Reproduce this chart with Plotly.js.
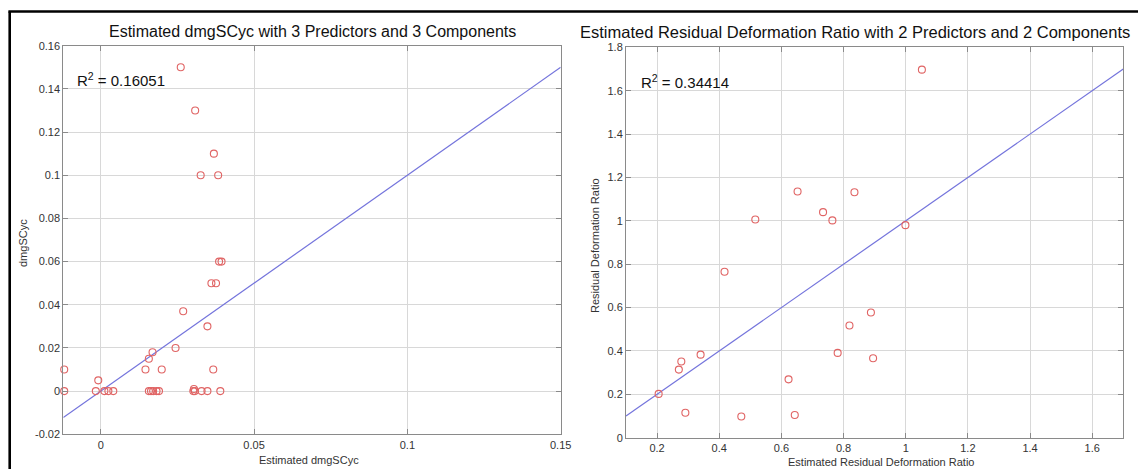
<!DOCTYPE html>
<html>
<head>
<meta charset="utf-8">
<script src="https://cdn.plot.ly/plotly-3.0.1.min.js"></script>
<style>html,body{margin:0;padding:0;background:#fff;}#chart{width:1138px;height:469px;}</style>
</head>
<body>
<div id="chart"></div>
<script>
// ---------- DATA ----------
// Left panel: Estimated dmgSCyc (x) vs dmgSCyc (y)
const dmgEstimated = [
  0.0261, 0.0308, 0.0369, 0.0326, 0.0383, 0.0386, 0.0394, 0.0361, 0.0376,
  0.0269, 0.0348, 0.0244, 0.0169, 0.0157, 0.0146, 0.0199, 0.0367, -0.0119, -0.0008,
  -0.0119, -0.0016, 0.0012, 0.0025, 0.0041, 0.0157, 0.0164, 0.0171, 0.0182, 0.0190,
  0.0302, 0.0304, 0.0307, 0.0329, 0.0348, 0.0390
];
const dmgObserved = [
  0.150, 0.130, 0.110, 0.100, 0.100, 0.060, 0.060, 0.050, 0.050,
  0.037, 0.030, 0.020, 0.018, 0.015, 0.010, 0.010, 0.010, 0.010, 0.005,
  0, 0, 0, 0, 0, 0, 0, 0, 0, 0,
  0, 0.001, 0, 0, 0, 0
];
const dmgR2 = "0.16051";
const dmgXTicks = [0, 0.05, 0.1, 0.15];
const dmgXTickText = ["0", "0.05", "0.1", "0.15"];
const dmgYTicks = [-0.02, 0, 0.02, 0.04, 0.06, 0.08, 0.1, 0.12, 0.14, 0.16];
const dmgYTickText = ["-0.02", "0", "0.02", "0.04", "0.06", "0.08", "0.1", "0.12", "0.14", "0.16"];
const dmgRange = [-0.0122, 0.15];

// Right panel: Estimated Residual Deformation Ratio (x) vs Residual Deformation Ratio (y)
const rdrEstimated = [
  1.052, 0.652, 0.835, 0.734, 0.764, 0.516, 0.999, 0.417, 0.888, 0.819,
  0.781, 0.895, 0.340, 0.278, 0.270, 0.623, 0.205, 0.291, 0.471, 0.643
];
const rdrObserved = [
  1.697, 1.135, 1.132, 1.040, 1.002, 1.006, 0.980, 0.765, 0.577, 0.517,
  0.391, 0.366, 0.383, 0.351, 0.314, 0.269, 0.202, 0.115, 0.098, 0.105
];
const rdrR2 = "0.34414";
const rdrXTicks = [0.2, 0.4, 0.6, 0.8, 1, 1.2, 1.4, 1.6];
const rdrXTickText = ["0.2", "0.4", "0.6", "0.8", "1", "1.2", "1.4", "1.6"];
const rdrYTicks = [0, 0.2, 0.4, 0.6, 0.8, 1, 1.2, 1.4, 1.6, 1.8];
const rdrYTickText = ["0", "0.2", "0.4", "0.6", "0.8", "1", "1.2", "1.4", "1.6", "1.8"];
const rdrRange = [0.1, 1.7];

// ---------- LAYOUT HELPERS ----------
const W = 1138, H = 469;
const px = v => v / W;
const py = v => 1 - v / H;

const FONT = "Liberation Sans, Arial, Helvetica, sans-serif";
const markerColor = "#e06464";
const lineColor = "#7474dc";
const frameColor = "#8a8a8a";
const gridColor = "#d8d8d8";

function axisBase(extra) {
  return Object.assign({
    showgrid: true, gridcolor: gridColor, gridwidth: 1,
    zeroline: false, showline: true, linecolor: frameColor, linewidth: 1,
    mirror: "ticks", ticks: "inside", ticklen: 5, tickcolor: frameColor,
    tickfont: {family: FONT, size: 11, color: "#333"},
    fixedrange: true
  }, extra);
}

const traces = [
  {x: dmgRange, y: dmgRange, xaxis: "x", yaxis: "y", mode: "lines",
   line: {color: lineColor, width: 1.2}, hoverinfo: "skip"},
  {x: dmgEstimated, y: dmgObserved, xaxis: "x", yaxis: "y", mode: "markers",
   marker: {symbol: "circle-open", size: 7, color: markerColor, line: {width: 1.1, color: markerColor}},
   cliponaxis: false},
  {x: rdrRange, y: rdrRange, xaxis: "x2", yaxis: "y2", mode: "lines",
   line: {color: lineColor, width: 1.2}, hoverinfo: "skip"},
  {x: rdrEstimated, y: rdrObserved, xaxis: "x2", yaxis: "y2", mode: "markers",
   marker: {symbol: "circle-open", size: 7, color: markerColor, line: {width: 1.1, color: markerColor}},
   cliponaxis: false}
];

const layout = {
  width: W, height: H,
  margin: {l: 0, r: 0, t: 0, b: 0},
  paper_bgcolor: "#fff", plot_bgcolor: "#fff",
  showlegend: false,
  font: {family: FONT, color: "#222"},
  xaxis: axisBase({domain: [px(63.3), px(560.7)], range: dmgRange,
    tickmode: "array", tickvals: dmgXTicks, ticktext: dmgXTickText, anchor: "y"}),
  yaxis: axisBase({domain: [py(434.3), py(45.7)], range: [dmgYTicks[0], dmgYTicks[dmgYTicks.length - 1]],
    tickmode: "array", tickvals: dmgYTicks, ticktext: dmgYTickText, anchor: "x"}),
  xaxis2: axisBase({domain: [px(626), px(1123.3)], range: rdrRange,
    tickmode: "array", tickvals: rdrXTicks, ticktext: rdrXTickText, anchor: "y2"}),
  yaxis2: axisBase({domain: [py(437.7), py(47.3)], range: [rdrYTicks[0], rdrYTicks[rdrYTicks.length - 1]],
    tickmode: "array", tickvals: rdrYTicks, ticktext: rdrYTickText, anchor: "x2"}),
  annotations: [
    {text: "Estimated dmgSCyc with 3 Predictors and 3 Components", xref: "paper", yref: "paper",
     x: px(312), y: py(31), xanchor: "center", yanchor: "middle", showarrow: false,
     font: {family: FONT, size: 16, color: "#111"}},
    {text: "Estimated Residual Deformation Ratio with 2 Predictors and 2 Components", xref: "paper", yref: "paper",
     x: px(855), y: py(32), xanchor: "center", yanchor: "middle", showarrow: false,
     font: {family: FONT, size: 16.5, color: "#111"}},
    {text: "R<sup>2</sup> = " + dmgR2, xref: "paper", yref: "paper",
     x: px(75), y: py(80), xanchor: "left", yanchor: "middle", showarrow: false,
     font: {family: FONT, size: 15, color: "#111"}},
    {text: "R<sup>2</sup> = " + rdrR2, xref: "paper", yref: "paper",
     x: px(639), y: py(82), xanchor: "left", yanchor: "middle", showarrow: false,
     font: {family: FONT, size: 15, color: "#111"}},
    {text: "Estimated dmgSCyc", xref: "paper", yref: "paper",
     x: px(309), y: py(460), xanchor: "center", yanchor: "middle", showarrow: false,
     font: {family: FONT, size: 11, color: "#333"}},
    {text: "dmgSCyc", xref: "paper", yref: "paper", textangle: -90,
     x: px(23), y: py(243), xanchor: "center", yanchor: "middle", showarrow: false,
     font: {family: FONT, size: 11, color: "#333"}},
    {text: "Estimated Residual Deformation Ratio", xref: "paper", yref: "paper",
     x: px(881), y: py(462), xanchor: "center", yanchor: "middle", showarrow: false,
     font: {family: FONT, size: 11, color: "#333"}},
    {text: "Residual Deformation Ratio", xref: "paper", yref: "paper", textangle: -90,
     x: px(595), y: py(245), xanchor: "center", yanchor: "middle", showarrow: false,
     font: {family: FONT, size: 11, color: "#333"}}
  ],
  shapes: [
    {type: "line", xref: "paper", yref: "paper", x0: px(9.7), x1: px(9.7), y0: -0.05, y1: py(11.5),
     line: {color: "#000", width: 2.6}},
    {type: "line", xref: "paper", yref: "paper", x0: px(8.4), x1: 1.01, y0: py(11.5), y1: py(11.5),
     line: {color: "#000", width: 2.6}}
  ]
};

Plotly.newPlot("chart", traces, layout, {displayModeBar: false, staticPlot: true});
</script>
</body>
</html>
